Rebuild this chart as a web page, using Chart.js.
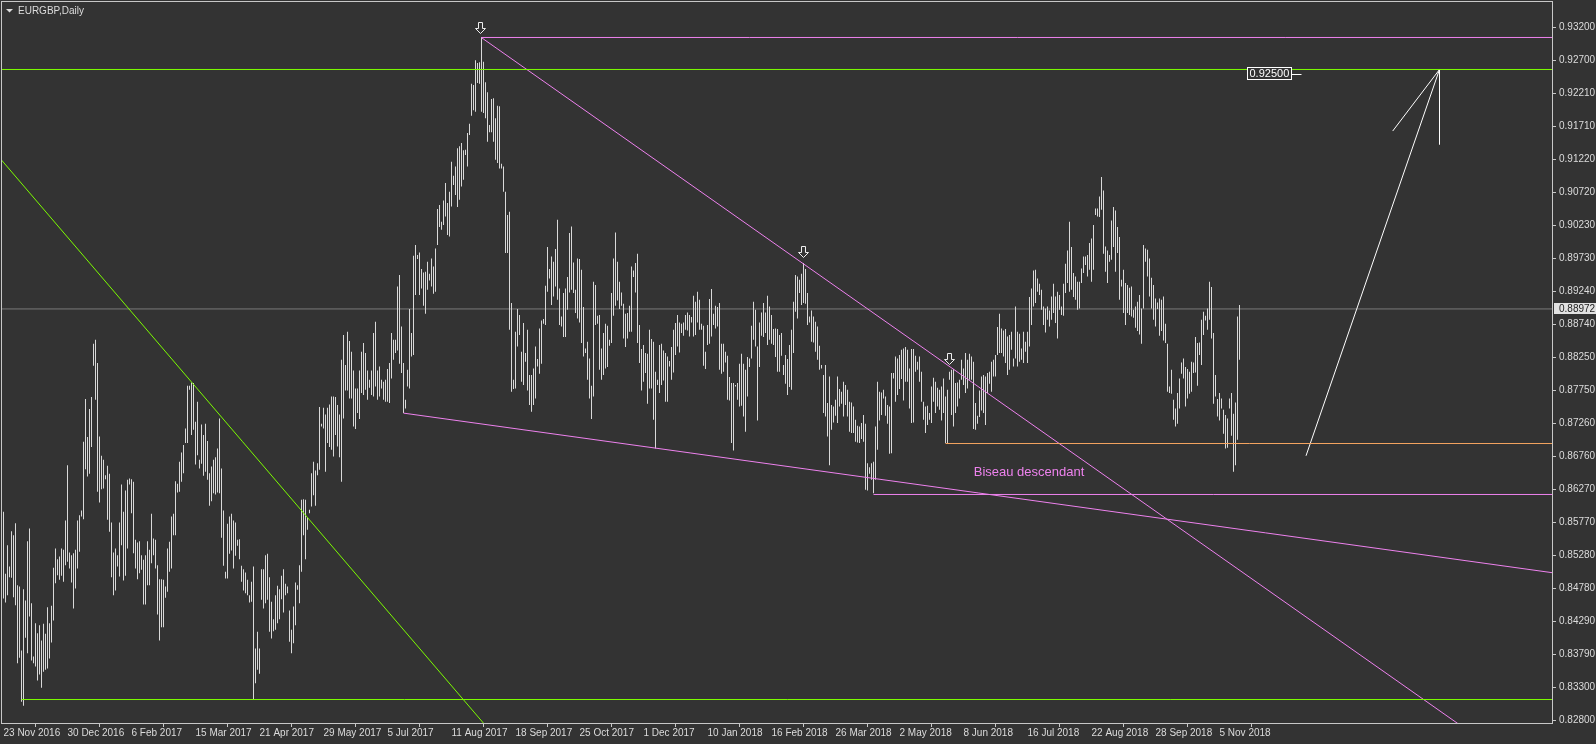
<!DOCTYPE html>
<html>
<head>
<meta charset="utf-8">
<title>EURGBP,Daily</title>
<script src="https://cdn.jsdelivr.net/npm/chart.js@4.4.1/dist/chart.umd.min.js"></script>
<style>
  html, body { margin: 0; padding: 0; background: #333333; overflow: hidden; }
  #wrap { position: relative; width: 1596px; height: 744px; }
</style>
</head>
<body>
<div id="wrap"><canvas id="chart" width="1596" height="744"></canvas></div>
<script>
const symbolTitle = 'EURGBP,Daily';

// date labels on the time axis and the bar index each one sits on
const dateLabels = ['23 Nov 2016', '30 Dec 2016', '6 Feb 2017', '15 Mar 2017', '21 Apr 2017', '29 May 2017',
  '5 Jul 2017', '11 Aug 2017', '18 Sep 2017', '25 Oct 2017', '1 Dec 2017', '10 Jan 2018', '16 Feb 2018',
  '26 Mar 2018', '2 May 2018', '8 Jun 2018', '16 Jul 2018', '22 Aug 2018', '28 Sep 2018', '5 Nov 2018'];
const dateTickIdx = [0, 32, 64, 96, 128, 160, 192, 224, 256, 288, 320, 352, 384, 416, 448, 480, 512, 544, 576, 608];

// price axis labels
const priceTicks = [0.93200, 0.92700, 0.92210, 0.91710, 0.91220, 0.90720, 0.90230, 0.89730, 0.89240, 0.88740, 0.88250,
  0.87750, 0.87260, 0.86760, 0.86270, 0.85770, 0.85280, 0.84780, 0.84290, 0.83790, 0.83300, 0.82800];

// daily bars, high and low
const barHigh = [
  0.8593,0.8500,0.8543,0.8511,0.8564,0.8558,0.8576,0.8483,0.8481,0.8385,
  0.8477,0.8460,0.8549,0.8568,0.8456,0.8376,0.8426,0.8411,0.8423,0.8400,
  0.8425,0.8410,0.8450,0.8426,0.8452,0.8509,0.8538,0.8522,0.8526,0.8538,
  0.8536,0.8580,0.8663,0.8532,0.8528,0.8531,0.8536,0.8580,0.8588,0.8595,
  0.8698,0.8762,0.8705,0.8747,0.8765,0.8845,0.8851,0.8816,0.8706,0.8677,
  0.8671,0.8648,0.8662,0.8650,0.8577,0.8532,0.8538,0.8528,0.8577,0.8634,
  0.8593,0.8625,0.8641,0.8643,0.8642,0.8638,0.8551,0.8547,0.8549,0.8528,
  0.8521,0.8528,0.8549,0.8536,0.8590,0.8553,0.8551,0.8513,0.8492,0.8492,
  0.8491,0.8481,0.8538,0.8548,0.8586,0.8590,0.8639,0.8635,0.8668,0.8682,
  0.8693,0.8718,0.8782,0.8782,0.8787,0.8786,0.8728,0.8758,0.8671,0.8724,
  0.8708,0.8725,0.8699,0.8651,0.8661,0.8671,0.8675,0.8688,0.8733,0.8658,
  0.8595,0.8503,0.8575,0.8586,0.8590,0.8580,0.8577,0.8551,0.8552,0.8512,
  0.8507,0.8502,0.8491,0.8468,0.8488,0.8511,0.8388,0.8413,0.8388,0.8507,
  0.8507,0.8528,0.8530,0.8495,0.8458,0.8432,0.8468,0.8482,0.8477,0.8497,
  0.8507,0.8485,0.8481,0.8445,0.8416,0.8451,0.8487,0.8483,0.8513,0.8611,
  0.8612,0.8611,0.8585,0.8596,0.8651,0.8668,0.8655,0.8666,0.8750,0.8725,
  0.8749,0.8739,0.8749,0.8754,0.8766,0.8766,0.8765,0.8753,0.8739,0.8821,
  0.8858,0.8813,0.8863,0.8849,0.8833,0.8805,0.8778,0.8778,0.8805,0.8833,
  0.8846,0.8831,0.8805,0.8791,0.8805,0.8861,0.8878,0.8805,0.8811,0.8791,
  0.8788,0.8791,0.8807,0.8816,0.8861,0.8851,0.8851,0.8931,0.8948,0.8871,
  0.8816,0.8761,0.8806,0.8897,0.8861,0.8977,0.8993,0.8978,0.8982,0.8957,
  0.8952,0.8953,0.8968,0.8950,0.8973,0.8961,0.8988,0.9047,0.9053,0.9028,
  0.9060,0.9086,0.9056,0.9073,0.9118,0.9097,0.9111,0.9138,0.9141,0.9146,
  0.9135,0.9136,0.9161,0.9175,0.9235,0.9233,0.9270,0.9266,0.9267,0.9305,
  0.9268,0.9237,0.9222,0.9173,0.9212,0.9213,0.9183,0.9202,0.9201,0.9115,
  0.9111,0.9073,0.9038,0.9043,0.8906,0.8791,0.8863,0.8897,0.8888,0.8833,
  0.8876,0.8831,0.8866,0.8798,0.8798,0.8808,0.8841,0.8822,0.8868,0.8880,
  0.8882,0.8932,0.8990,0.8957,0.8976,0.8968,0.8987,0.9031,0.8928,0.8886,
  0.8921,0.8928,0.8945,0.9011,0.9021,0.8967,0.8926,0.8973,0.8972,0.8956,
  0.8900,0.8838,0.8848,0.8823,0.8782,0.8938,0.8933,0.8887,0.8888,0.8838,
  0.8861,0.8875,0.8872,0.8851,0.8921,0.8973,0.9012,0.8968,0.8938,0.8922,
  0.8905,0.8890,0.8891,0.8902,0.8961,0.8955,0.8966,0.8980,0.8873,0.8837,
  0.8843,0.8831,0.8830,0.8866,0.8852,0.8848,0.8803,0.8791,0.8843,0.8845,
  0.8835,0.8831,0.8826,0.8819,0.8840,0.8866,0.8876,0.8888,0.8877,0.8875,
  0.8877,0.8888,0.8892,0.8888,0.8885,0.8917,0.8908,0.8923,0.8911,0.8875,
  0.8872,0.8833,0.8873,0.8912,0.8927,0.8890,0.8902,0.8900,0.8906,0.8845,
  0.8845,0.8833,0.8827,0.8795,0.8786,0.8786,0.8783,0.8786,0.8815,0.8830,
  0.8815,0.8806,0.8825,0.8823,0.8872,0.8908,0.8896,0.8841,0.8877,0.8892,
  0.8906,0.8892,0.8917,0.8901,0.8888,0.8867,0.8868,0.8867,0.8858,0.8861,
  0.8813,0.8828,0.8822,0.8843,0.8866,0.8908,0.8948,0.8946,0.8941,0.8950,
  0.8966,0.8957,0.8921,0.8886,0.8895,0.8886,0.8878,0.8871,0.8842,0.8813,
  0.8798,0.8813,0.8756,0.8796,0.8753,0.8751,0.8761,0.8796,0.8777,0.8773,
  0.8788,0.8783,0.8776,0.8758,0.8757,0.8751,0.8731,0.8722,0.8721,0.8726,
  0.8738,0.8725,0.8666,0.8660,0.8666,0.8668,0.8721,0.8788,0.8773,0.8772,
  0.8776,0.8766,0.8753,0.8751,0.8801,0.8801,0.8826,0.8823,0.8828,0.8836,
  0.8838,0.8840,0.8836,0.8808,0.8837,0.8837,0.8827,0.8818,0.8826,0.8803,
  0.8758,0.8751,0.8752,0.8741,0.8781,0.8794,0.8788,0.8779,0.8776,0.8781,
  0.8793,0.8766,0.8776,0.8803,0.8806,0.8807,0.8786,0.8787,0.8791,0.8821,
  0.8808,0.8831,0.8821,0.8830,0.8826,0.8818,0.8756,0.8737,0.8775,0.8796,
  0.8798,0.8796,0.8801,0.8803,0.8818,0.8821,0.8828,0.8870,0.8890,0.8868,
  0.8865,0.8867,0.8856,0.8858,0.8863,0.8823,0.8901,0.8863,0.8860,0.8838,
  0.8863,0.8848,0.8863,0.8915,0.8928,0.8955,0.8956,0.8943,0.8935,0.8926,
  0.8901,0.8898,0.8901,0.8895,0.8916,0.8935,0.8916,0.8923,0.8918,0.8901,
  0.8935,0.8965,0.8985,0.9028,0.8990,0.8951,0.8946,0.8938,0.8938,0.8958,
  0.8976,0.8976,0.8978,0.8996,0.9003,0.9023,0.9048,0.9048,0.9066,0.9095,
  0.9075,0.8991,0.8985,0.8978,0.9030,0.9050,0.9045,0.9020,0.9005,0.8941,
  0.8956,0.8936,0.8933,0.8929,0.8931,0.8896,0.8901,0.8908,0.8918,0.8898,
  0.8993,0.8988,0.8986,0.8973,0.8944,0.8933,0.8913,0.8907,0.8913,0.8911,
  0.8916,0.8875,0.8845,0.8781,0.8806,0.8761,0.8748,0.8771,0.8793,0.8817,
  0.8823,0.8810,0.8807,0.8803,0.8818,0.8817,0.8855,0.8846,0.8847,0.8881,
  0.8893,0.8887,0.8898,0.8938,0.8930,0.8861,0.8798,0.8762,0.8771,0.8763,
  0.8746,0.8738,0.8733,0.8763,0.8771,0.8740,0.8757,0.8886,0.8903
];
const barLow = [
  0.8463,0.8457,0.8468,0.8495,0.8494,0.8465,0.8453,0.8366,0.8374,0.8308,
  0.8302,0.8404,0.8381,0.8436,0.8370,0.8366,0.8361,0.8340,0.8349,0.8329,
  0.8353,0.8356,0.8358,0.8373,0.8397,0.8430,0.8486,0.8498,0.8491,0.8497,
  0.8488,0.8513,0.8518,0.8508,0.8487,0.8448,0.8478,0.8508,0.8533,0.8586,
  0.8582,0.8657,0.8646,0.8650,0.8690,0.8812,0.8761,0.8623,0.8607,0.8627,
  0.8628,0.8642,0.8581,0.8563,0.8495,0.8468,0.8475,0.8511,0.8496,0.8543,
  0.8490,0.8497,0.8538,0.8634,0.8591,0.8531,0.8508,0.8492,0.8501,0.8506,
  0.8454,0.8454,0.8483,0.8483,0.8516,0.8528,0.8508,0.8439,0.8400,0.8420,
  0.8420,0.8464,0.8473,0.8503,0.8508,0.8558,0.8558,0.8622,0.8623,0.8638,
  0.8651,0.8696,0.8696,0.8776,0.8708,0.8716,0.8664,0.8678,0.8658,0.8665,
  0.8647,0.8653,0.8641,0.8602,0.8609,0.8621,0.8619,0.8622,0.8621,0.8554,
  0.8512,0.8493,0.8493,0.8530,0.8535,0.8508,0.8527,0.8542,0.8522,0.8488,
  0.8475,0.8471,0.8468,0.8457,0.8458,0.8311,0.8336,0.8356,0.8350,0.8461,
  0.8448,0.8456,0.8461,0.8413,0.8403,0.8414,0.8416,0.8426,0.8432,0.8462,
  0.8442,0.8468,0.8471,0.8398,0.8381,0.8396,0.8423,0.8476,0.8456,0.8503,
  0.8558,0.8522,0.8566,0.8591,0.8601,0.8618,0.8602,0.8648,0.8656,0.8721,
  0.8718,0.8653,0.8696,0.8690,0.8686,0.8676,0.8708,0.8691,0.8675,0.8638,
  0.8733,0.8775,0.8775,0.8763,0.8763,0.8721,0.8717,0.8741,0.8732,0.8771,
  0.8768,0.8776,0.8761,0.8779,0.8768,0.8766,0.8781,0.8761,0.8766,0.8778,
  0.8761,0.8758,0.8758,0.8756,0.8793,0.8821,0.8831,0.8835,0.8815,0.8801,
  0.8741,0.8748,0.8781,0.8778,0.8826,0.8828,0.8918,0.8972,0.8918,0.8928,
  0.8902,0.8890,0.8926,0.8940,0.8931,0.8920,0.8923,0.8993,0.9020,0.9016,
  0.9023,0.9036,0.9008,0.9006,0.9051,0.9083,0.9068,0.9050,0.9061,0.9081,
  0.9091,0.9128,0.9111,0.9158,0.9187,0.9195,0.9193,0.9236,0.9235,0.9193,
  0.9191,0.9183,0.9148,0.9162,0.9162,0.9148,0.9121,0.9116,0.9108,0.9108,
  0.9073,0.8981,0.8981,0.8866,0.8773,0.8777,0.8778,0.8841,0.8858,0.8788,
  0.8783,0.8818,0.8775,0.8753,0.8743,0.8753,0.8763,0.8811,0.8800,0.8815,
  0.8875,0.8873,0.8923,0.8943,0.8903,0.8916,0.8931,0.8911,0.8873,0.8871,
  0.8855,0.8855,0.8896,0.8922,0.8926,0.8921,0.8891,0.8883,0.8877,0.8846,
  0.8826,0.8831,0.8791,0.8763,0.8732,0.8766,0.8873,0.8875,0.8806,0.8791,
  0.8798,0.8808,0.8810,0.8842,0.8846,0.8887,0.8902,0.8910,0.8897,0.8902,
  0.8853,0.8840,0.8853,0.8863,0.8863,0.8945,0.8922,0.8846,0.8816,0.8775,
  0.8788,0.8801,0.8755,0.8778,0.8778,0.8731,0.8688,0.8783,0.8771,0.8783,
  0.8790,0.8758,0.8758,0.8811,0.8791,0.8802,0.8828,0.8841,0.8832,0.8861,
  0.8857,0.8866,0.8865,0.8856,0.8877,0.8856,0.8858,0.8877,0.8866,0.8866,
  0.8812,0.8807,0.8843,0.8845,0.8856,0.8873,0.8868,0.8871,0.8806,0.8800,
  0.8803,0.8817,0.8761,0.8760,0.8696,0.8685,0.8781,0.8761,0.8751,0.8752,
  0.8736,0.8713,0.8766,0.8810,0.8823,0.8851,0.8841,0.8730,0.8810,0.8857,
  0.8855,0.8861,0.8843,0.8851,0.8845,0.8843,0.8825,0.8803,0.8803,0.8827,
  0.8798,0.8785,0.8768,0.8780,0.8776,0.8831,0.8893,0.8883,0.8921,0.8903,
  0.8906,0.8905,0.8873,0.8877,0.8848,0.8847,0.8833,0.8821,0.8806,0.8808,
  0.8741,0.8736,0.8706,0.8663,0.8716,0.8727,0.8737,0.8726,0.8751,0.8755,
  0.8736,0.8753,0.8736,0.8713,0.8711,0.8711,0.8698,0.8697,0.8696,0.8702,
  0.8698,0.8626,0.8625,0.8650,0.8641,0.8621,0.8641,0.8686,0.8730,0.8738,
  0.8763,0.8737,0.8725,0.8680,0.8681,0.8793,0.8758,0.8768,0.8777,0.8792,
  0.8760,0.8788,0.8788,0.8748,0.8726,0.8727,0.8803,0.8806,0.8788,0.8758,
  0.8731,0.8711,0.8723,0.8731,0.8726,0.8758,0.8741,0.8751,0.8746,0.8730,
  0.8741,0.8696,0.8696,0.8791,0.8738,0.8721,0.8741,0.8751,0.8763,0.8791,
  0.8783,0.8771,0.8778,0.8791,0.8791,0.8717,0.8716,0.8725,0.8735,0.8745,
  0.8741,0.8723,0.8771,0.8785,0.8773,0.8796,0.8796,0.8828,0.8831,0.8831,
  0.8826,0.8816,0.8798,0.8806,0.8836,0.8811,0.8823,0.8811,0.8818,0.8821,
  0.8816,0.8833,0.8816,0.8841,0.8873,0.8901,0.8906,0.8923,0.8918,0.8896,
  0.8873,0.8862,0.8881,0.8871,0.8881,0.8891,0.8876,0.8853,0.8896,0.8888,
  0.8887,0.8921,0.8936,0.8923,0.8926,0.8915,0.8911,0.8896,0.8898,0.8936,
  0.8951,0.8963,0.8946,0.8956,0.8938,0.8956,0.9038,0.9036,0.9035,0.9046,
  0.8980,0.8953,0.8936,0.8968,0.8971,0.8990,0.8953,0.8981,0.8911,0.8931,
  0.8891,0.8873,0.8891,0.8888,0.8886,0.8884,0.8869,0.8864,0.8859,0.8845,
  0.8898,0.8968,0.8946,0.8916,0.8898,0.8881,0.8871,0.8897,0.8857,0.8864,
  0.8850,0.8846,0.8773,0.8771,0.8770,0.8731,0.8721,0.8725,0.8748,0.8800,
  0.8793,0.8751,0.8763,0.8770,0.8773,0.8801,0.8802,0.8782,0.8828,0.8813,
  0.8858,0.8880,0.8866,0.8881,0.8853,0.8755,0.8766,0.8736,0.8730,0.8748,
  0.8710,0.8688,0.8689,0.8748,0.8707,0.8653,0.8663,0.8701,0.8821
];
const lastPrice = 0.88972;

// drawn objects: levels (price, first bar index) and trend lines (bar index, price)
const greenLevels = [0.92563, 0.83115];
const greenLevelFrom = [-10, 9];
const violetLevels = [0.93043, 0.86190];
const violetLevelFrom = [239, 435];
const sandLevel = 0.86954;
const sandLevelFrom = 471;
const greenTrendX = [-10, 260], greenTrendY = [0.9152, 0.8206];
const wedgeUpperX = [239, 800], wedgeUpperY = [0.9304, 0.8122];
const wedgeLowerX = [200, 800], wedgeLowerY = [0.8741, 0.8491];
const projOuterX = [694.6, 718, 651.25], projOuterY = [0.9164, 0.92563, 0.8677];
const projStemX = [718, 718], projStemY = [0.92563, 0.9144];
const arrowIdx = [239, 400, 473];
const arrowPrice = [0.9311, 0.8975, 0.8815];
const wedgeText = 'Biseau descendant', wedgeTextIdx = 512.75, wedgeTextPrice = 0.8652;
const targetText = '0.92500', targetIdx = 621.9, targetPrice = 0.9249;

const FONT = "'Liberation Sans', Arial, sans-serif";
const TEXT = '#dcdcdc';
const FRAME = '#c8c8c8';
const END = 774.25;

function seg(xs, ys, color, order) {
    return {
        type: 'line',
        data: xs.map((x, k) => ({ x: x, y: ys[k] })),
        borderColor: color, borderWidth: 1, pointRadius: 0,
        fill: false, tension: 0, clip: 0, order: order || 1
    };
}

const datasets = [];
datasets.push(seg([-2, 800], [lastPrice, lastPrice], '#7a7a7a', 3));
datasets.push({
    type: 'bar',
    data: barHigh.map((h, i) => ({ x: i, y: [barLow[i], h] })),
    backgroundColor: '#d9d9d9', borderWidth: 0,
    barThickness: 1, inflateAmount: 0, order: 2
});
greenLevels.forEach((p, k) => datasets.push(seg([greenLevelFrom[k], 800], [p, p], '#7cfc00')));
violetLevels.forEach((p, k) => datasets.push(seg([violetLevelFrom[k], 800], [p, p], '#ee82ee')));
datasets.push(seg([sandLevelFrom, 800], [sandLevel, sandLevel], '#f4a460'));
datasets.push(seg(greenTrendX, greenTrendY, '#7cfc00'));
datasets.push(seg(wedgeUpperX, wedgeUpperY, '#ee82ee'));
datasets.push(seg(wedgeLowerX, wedgeLowerY, '#ee82ee'));
datasets.push(seg(projOuterX, projOuterY, '#ffffff'));
datasets.push(seg(projStemX, projStemY, '#ffffff'));

// frame, title, arrows, texts and the price boxes
const decorations = {
    id: 'decorations',
    afterDatasetsDraw(chart) {
        const { ctx, chartArea: a, scales: { x, y } } = chart;
        ctx.save();

        // down arrows above the marked highs
        ctx.strokeStyle = '#eeeeee';
        ctx.fillStyle = '#333333';
        ctx.lineWidth = 1;
        arrowIdx.forEach((idx, k) => {
            const cx = Math.round(x.getPixelForValue(idx)) - 0.5;
            const ty = Math.round(y.getPixelForValue(arrowPrice[k])) + 0.5;
            ctx.beginPath();
            ctx.moveTo(cx - 2, ty - 11);
            ctx.lineTo(cx + 2, ty - 11);
            ctx.lineTo(cx + 2, ty - 5);
            ctx.lineTo(cx + 5, ty - 5);
            ctx.lineTo(cx, ty);
            ctx.lineTo(cx - 5, ty - 5);
            ctx.lineTo(cx - 2, ty - 5);
            ctx.closePath();
            ctx.fill();
            ctx.stroke();
        });

        // wedge caption
        ctx.font = '13px ' + FONT;
        ctx.fillStyle = '#ee82ee';
        ctx.textAlign = 'center';
        ctx.textBaseline = 'middle';
        ctx.fillText(wedgeText, x.getPixelForValue(wedgeTextIdx), y.getPixelForValue(wedgeTextPrice));

        // target label box
        const bx = Math.round(x.getPixelForValue(targetIdx)) + 0.5;
        const by = Math.round(y.getPixelForValue(targetPrice));
        ctx.font = '11px ' + FONT;
        const tw = Math.round(ctx.measureText(targetText).width);
        ctx.fillStyle = '#333333';
        ctx.fillRect(bx, by - 6, tw + 4, 12);
        ctx.strokeStyle = '#ffffff';
        ctx.strokeRect(bx, by - 6.5, tw + 4, 12);
        ctx.beginPath();
        ctx.moveTo(bx + tw + 4, by + 0.5);
        ctx.lineTo(bx + tw + 14, by + 0.5);
        ctx.stroke();
        ctx.fillStyle = '#ffffff';
        ctx.textAlign = 'left';
        ctx.fillText(targetText, bx + 2, by);

        // frame
        ctx.strokeStyle = FRAME;
        ctx.strokeRect(a.left - 0.5, a.top - 0.5, a.right - a.left + 1, a.bottom - a.top + 1);

        // last price box on the axis
        const py = Math.round(y.getPixelForValue(lastPrice));
        ctx.fillStyle = '#e2e2e2';
        ctx.fillRect(a.right + 2, py - 6, chart.width - a.right - 2, 11);
        ctx.fillStyle = '#222222';
        ctx.font = '10px ' + FONT;
        ctx.textAlign = 'left';
        ctx.fillText(lastPrice.toFixed(5), a.right + 7, py);

        // title
        ctx.fillStyle = TEXT;
        ctx.beginPath();
        ctx.moveTo(6, 9);
        ctx.lineTo(13, 9);
        ctx.lineTo(9.5, 12.5);
        ctx.closePath();
        ctx.fill();
        ctx.font = '10px ' + FONT;
        ctx.fillText(symbolTitle, 18, 11);
        ctx.restore();
    }
};

new Chart(document.getElementById('chart'), {
    type: 'bar',
    data: { datasets: datasets },
    plugins: [decorations],
    options: {
        responsive: false, animation: false, events: [],
        layout: { padding: { top: 2, left: 2, right: 0, bottom: 0 } },
        plugins: { legend: { display: false }, tooltip: { enabled: false } },
        scales: {
            x: {
                type: 'linear', offset: false, min: -0.75, max: END,
                afterBuildTicks: s => { s.ticks = dateTickIdx.map(v => ({ value: v })); },
                afterFit: s => { s.height = 21; s.paddingLeft = 0; s.paddingRight = 0; },
                ticks: {
                    callback: (v, i) => dateLabels[i], align: 'start', autoSkip: false,
                    maxRotation: 0, minRotation: 0, padding: 0, color: TEXT, font: { family: FONT, size: 10 }
                },
                grid: { drawOnChartArea: false, drawTicks: true, tickLength: 4, color: FRAME },
                border: { display: false }
            },
            y: {
                type: 'linear', position: 'right', min: 0.82763, max: 0.93575,
                afterBuildTicks: s => { s.ticks = priceTicks.map(v => ({ value: v })); },
                afterFit: s => { s.width = 44; s.paddingTop = 0; s.paddingBottom = 0; },
                ticks: {
                    callback: (v, i) => priceTicks[i].toFixed(5), autoSkip: false,
                    padding: 3, color: TEXT, font: { family: FONT, size: 10 }
                },
                grid: { drawOnChartArea: false, drawTicks: true, tickLength: 4, color: FRAME },
                border: { display: false }
            }
        }
    }
});
</script>
</body>
</html>
